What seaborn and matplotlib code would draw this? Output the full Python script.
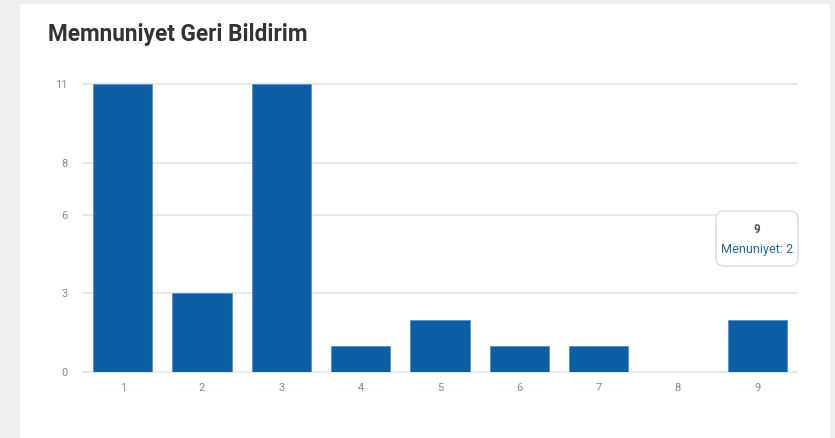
import matplotlib
matplotlib.use("Agg")
import matplotlib.pyplot as plt
from matplotlib.patches import FancyBboxPatch, Rectangle
import seaborn as sns
import pandas as pd

categories = ["1", "2", "3", "4", "5", "6", "7", "8", "9"]
values = [11, 3, 11, 1, 2, 1, 1, 0, 2]
yticks = [0, 3, 6, 8, 11]
title = "Memnuniyet Geri Bildirim"
tooltip_title = "9"
tooltip_text = "Menuniyet: 2"

sns.set_theme(style="white")
plt.rcParams['font.family'] = ['Roboto', 'DejaVu Sans']

df = pd.DataFrame({"cat": categories, "val": values})

W, H = 835, 438
fig = plt.figure(figsize=(W / 100, H / 100), dpi=100)
fig.patch.set_facecolor("#efefef")
# white card
fig.patches.append(Rectangle((20 / W, 0), 810 / W, 1 - 4 / H, transform=fig.transFigure,
                             facecolor="white", edgecolor="none", zorder=-5))

ax = fig.add_axes([83 / W, (H - 372) / H, 714 / W, 288 / H])
ax.set_facecolor("none")
sns.barplot(data=df, x="cat", y="val", color="#0b5fa5", width=0.75, ax=ax,
            edgecolor="#5a8fc4", linewidth=0.6, saturation=1, zorder=3)
ax.set_xlim(-0.5, len(categories) - 0.5)
ax.set_ylim(0, 11)
ax.set_yticks(yticks)
ax.set_yticklabels([str(t) for t in yticks])
for t in yticks:
    ax.axhline(t, color="#e6e6e6", linewidth=1.3, zorder=1, clip_on=False)
for s in ax.spines.values():
    s.set_visible(False)
ax.set_xlabel("")
ax.set_ylabel("")
ax.tick_params(axis="both", length=0, labelsize=8, labelcolor="#8a8a8a")
ax.tick_params(axis="x", pad=8)
ax.tick_params(axis="y", pad=11)

fig.text(48 / W, 1 - 35 / H, title, fontsize=16.3, fontweight="bold", color="#333333",
         va="center", ha="left")

# tooltip
fig.patches.append(FancyBboxPatch((716 / W, 1 - 266 / H), 82 / W, 55 / H,
                                  boxstyle="round,pad=0,rounding_size=%f" % (8 / W),
                                  mutation_aspect=W / H,
                                  transform=fig.transFigure, facecolor="white",
                                  edgecolor="#e0e0e0", linewidth=1.2, zorder=5))
fig.text(757 / W, 1 - 229 / H, tooltip_title, fontsize=8.5, fontweight="bold",
         color="#555555", ha="center", va="center", zorder=6)
fig.text(757 / W, 1 - 249 / H, tooltip_text, fontsize=9.1, color="#1f6bb0",
         ha="center", va="center", zorder=6)

fig.savefig("out.png", dpi=100)
